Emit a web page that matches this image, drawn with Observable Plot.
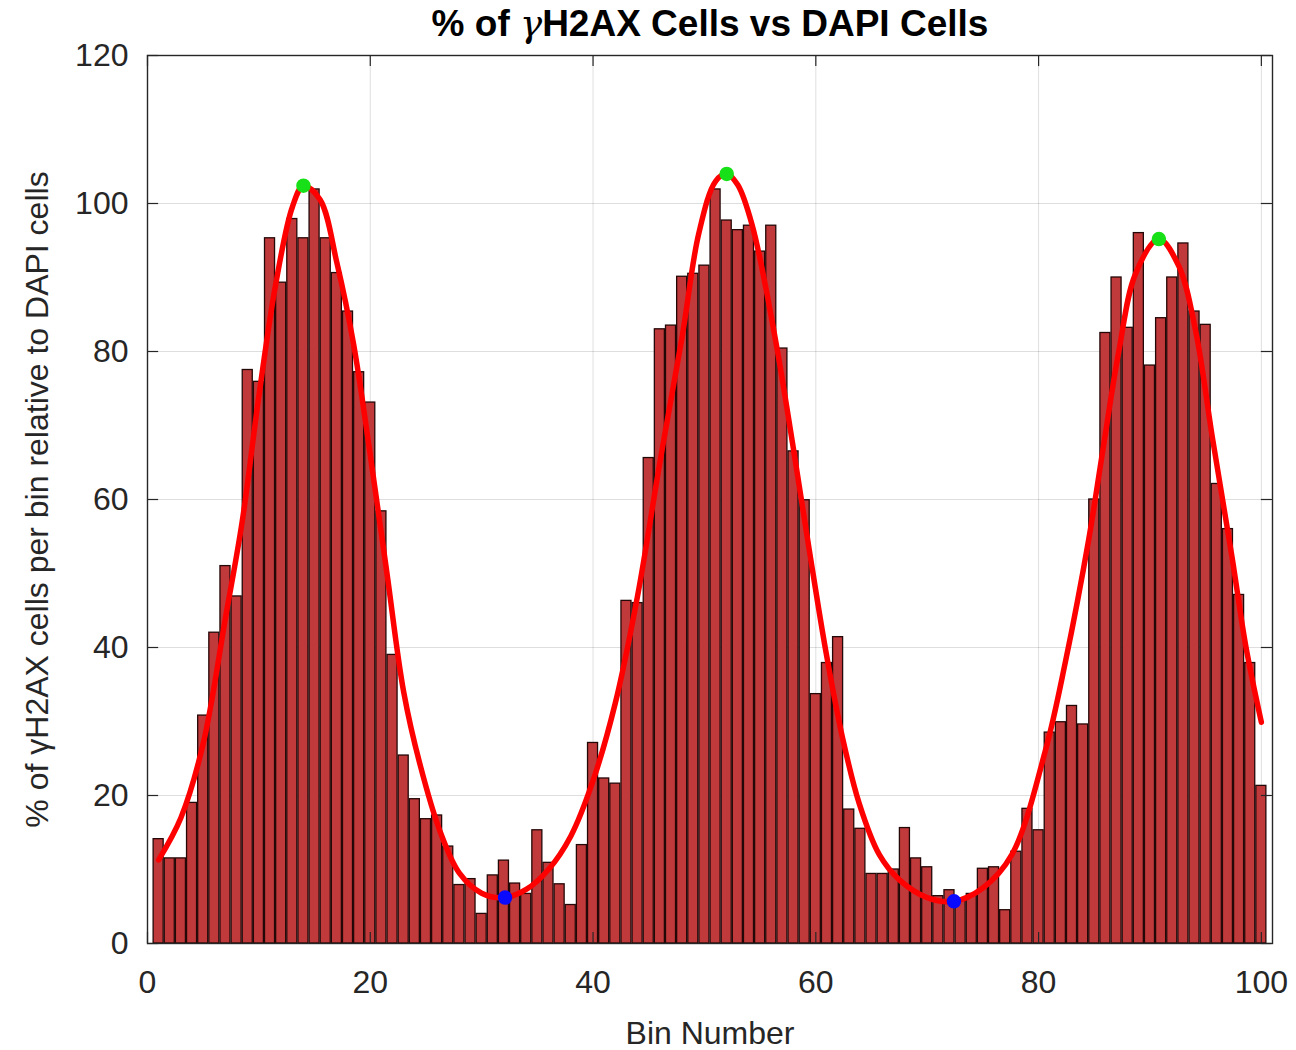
<!DOCTYPE html>
<html>
<head>
<meta charset="utf-8">
<script src="https://cdn.jsdelivr.net/npm/d3@7"></script>
<script src="https://cdn.jsdelivr.net/npm/@observablehq/plot@0.6"></script>
<style>
  html, body { margin: 0; padding: 0; background: #fff; }
  #title { width: 1296px; box-sizing: border-box; padding-left: 124px; height: 40px; line-height: 48px;
    text-align: center; font-family: "Liberation Sans", Arial, sans-serif; font-weight: bold; font-size: 37px; color: #000; white-space: nowrap; }
  #title i { font-family: "DejaVu Serif", serif; font-weight: normal; }
</style>
</head>
<body>
<div id="title">% of <i>γ</i>H2AX Cells vs DAPI Cells</div>
<div id="chart"></div>
<script>
// Bar heights for bins 1..100 (% of γH2AX cells per bin relative to DAPI cells)
const binValues = [
  14.1, 11.5, 11.5, 19.0, 30.8, 42.0, 51.0, 46.9, 77.5, 75.9,
  95.3, 89.3, 97.9, 95.3, 101.9, 95.3, 90.6, 85.4, 77.2, 73.1,
  58.4, 39.0, 25.4, 19.5, 16.8, 17.3, 13.1, 7.9, 8.7, 4.0,
  9.2, 11.2, 8.1, 6.7, 15.3, 10.9, 8.0, 5.2, 13.3, 27.1,
  22.3, 21.6, 46.3, 46.0, 65.6, 83.0, 83.5, 90.1, 90.5, 91.6,
  101.9, 97.7, 96.4, 97.0, 93.5, 97.0, 80.4, 66.5, 59.9, 33.7,
  37.9, 41.4, 18.1, 15.5, 9.4, 9.4, 10.0, 15.6, 11.5, 10.3,
  6.4, 7.2, 5.8, 6.7, 10.1, 10.3, 4.5, 12.4, 18.2, 15.3,
  28.5, 29.9, 32.1, 29.6, 60.0, 82.5, 90.0, 83.2, 96.0, 78.1,
  84.5, 90.0, 94.6, 85.4, 83.6, 62.1, 56.0, 47.1, 37.9, 21.3
];
// Fitted curve
const curveX = [1, 3, 5, 7, 8.5, 10, 11.5, 13, 14, 15.5, 17, 18.5, 20, 21.5, 23, 24.5, 26.3, 28, 30, 32,
  34, 36, 38, 40, 42, 44, 46, 48, 49.5, 51, 52, 53, 54.3, 56.4, 57.9, 59.4, 60.9, 62.4, 63.9, 65.7,
  67.5, 70, 72.4, 75, 77.6, 80.6, 82.4, 84.5, 85.7, 87.2, 88.7, 90.8, 92.6, 94.1, 95.6, 97.4, 98.6, 100];
const curveY = [11.3, 17, 27, 44, 57, 74, 89, 99.5, 102.4, 100.5, 92, 81, 66, 50, 34, 24, 15, 9.5, 6.8, 6.2,
  7.3, 10, 14.5, 22, 32.5, 47, 65, 82, 96, 103, 104, 102.5, 97, 81.4, 67.7, 53.3, 39.5, 27.8, 18.9, 12,
  8.6, 6.2, 5.7, 7.5, 12, 26, 38, 54.6, 66, 80, 90.5, 95.2, 91.5, 82.8, 68.4, 51.9, 40.2, 29.9];
// Peaks (green) and troughs (blue)
const peakX = [14, 52, 90.8];
const peakY = [102.4, 104, 95.2];
const troughX = [32.1, 72.4];
const troughY = [6.2, 5.7];
// Tick values
const xTicks = [0, 20, 40, 60, 80, 100];
const yTicks = [0, 20, 40, 60, 80, 100, 120];

const bars = binValues.map((v, i) => ({bin: i + 1, value: v}));
const curve = curveX.map((x, i) => ({x, y: curveY[i]}));
const peaks = peakX.map((x, i) => ({x, y: peakY[i]}));
const troughs = troughX.map((x, i) => ({x, y: troughY[i]}));

const font = '"Liberation Sans", Arial, sans-serif';
const tickColor = "#262626";

const chart = Plot.plot({
  width: 1296,
  height: 1010,
  marginLeft: 147,
  marginRight: 24,
  marginTop: 15,
  marginBottom: 107,
  style: {fontFamily: font, background: "#fff", overflow: "visible"},
  x: {domain: [0, 101]},
  y: {domain: [0, 120]},
  marks: [
    Plot.gridX(xTicks, {stroke: "#000", strokeOpacity: 0.13, strokeWidth: 1}),
    Plot.gridY(yTicks, {stroke: "#000", strokeOpacity: 0.13, strokeWidth: 1}),
    Plot.rectY(bars, {x1: d => d.bin - 0.45, x2: d => d.bin + 0.45, y: "value",
      fill: "#c0393b", stroke: "#240808", strokeWidth: 1.3}),
    Plot.line(curve, {x: "x", y: "y", stroke: "#ff0000", strokeWidth: 5.5, curve: "catmull-rom"}),
    Plot.dot(peaks, {x: "x", y: "y", r: 6.5, fill: "#18e018", stroke: "#18e018"}),
    Plot.dot(troughs, {x: "x", y: "y", r: 6.5, fill: "#0a0aff", stroke: "#0a0aff"}),
    // inward tick marks (left/right and bottom/top)
    Plot.ruleY(yTicks, {x1: 0, x2: 1, stroke: tickColor, strokeWidth: 1.2}),
    Plot.ruleY(yTicks, {x1: 100, x2: 101, stroke: tickColor, strokeWidth: 1.2}),
    Plot.ruleX(xTicks, {y1: 0, y2: 1.5, stroke: tickColor, strokeWidth: 1.2}),
    Plot.ruleX(xTicks, {y1: 118.5, y2: 120, stroke: tickColor, strokeWidth: 1.2}),
    Plot.frame({stroke: tickColor, strokeWidth: 1.4}),
    Plot.axisX({ticks: xTicks, tickSize: 0, tickPadding: 27, fontSize: 32, color: tickColor,
      label: "Bin Number", labelAnchor: "center", labelOffset: 100, labelArrow: "none"}),
    Plot.axisY({ticks: yTicks, tickSize: 0, tickPadding: 19, fontSize: 32, color: tickColor,
      label: "% of γH2AX cells per bin relative to DAPI cells", labelAnchor: "center", labelOffset: 122, labelArrow: "none"})
  ]
});
document.getElementById("chart").appendChild(chart);
</script>
</body>
</html>
